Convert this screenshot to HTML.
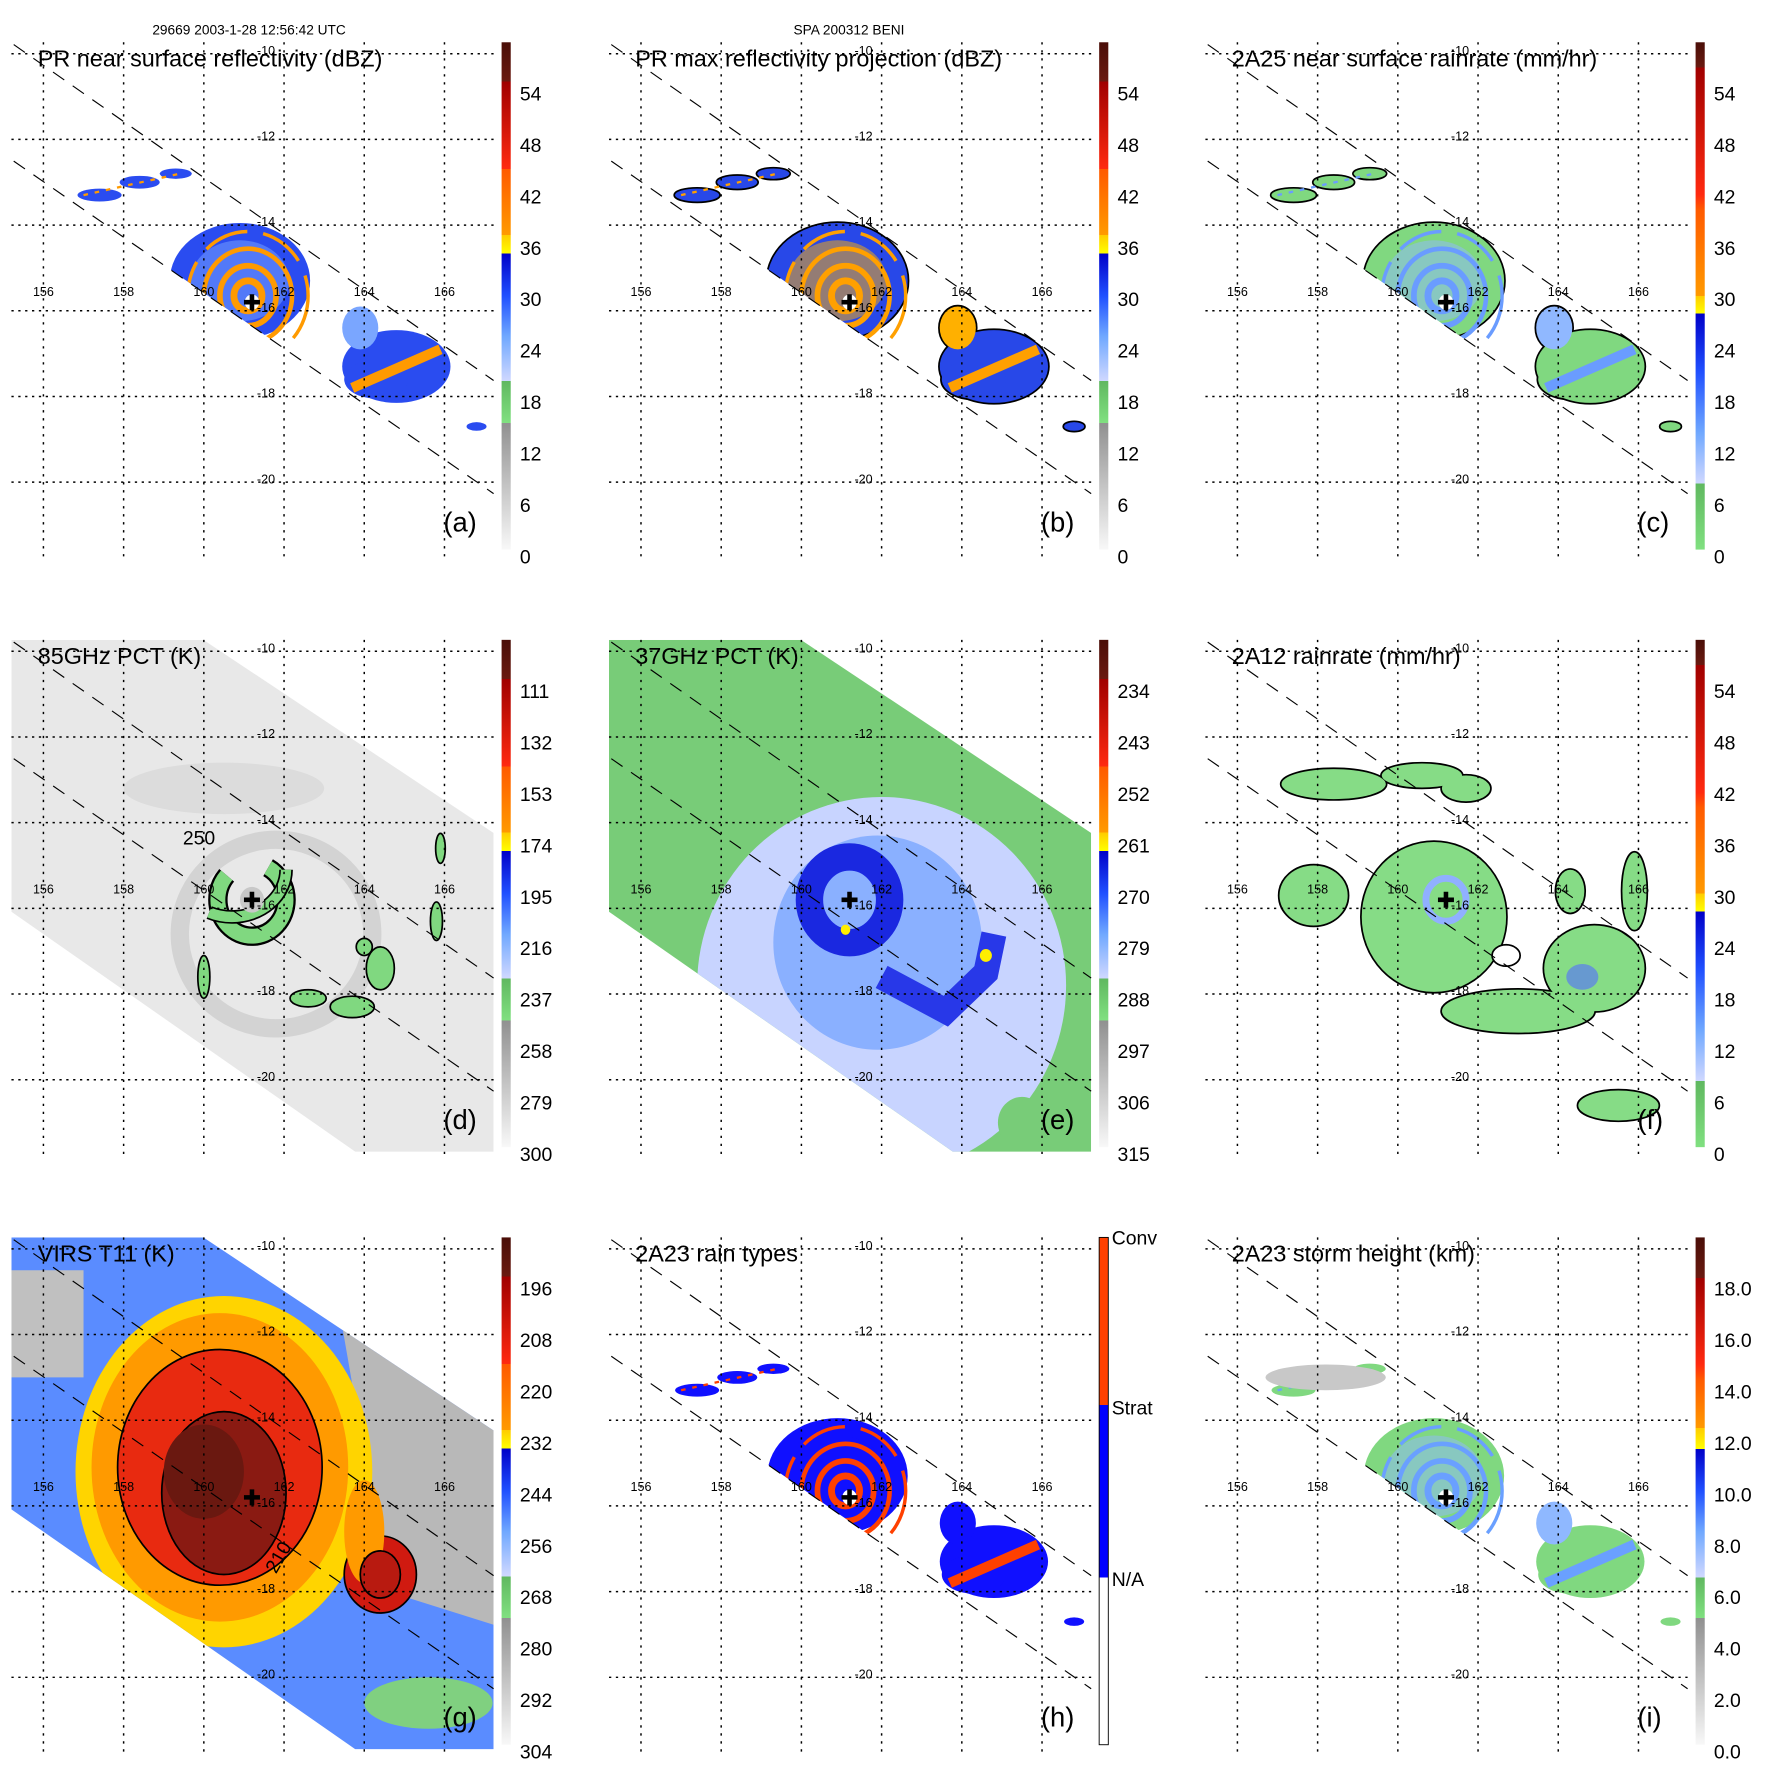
<!DOCTYPE html>
<html><head><meta charset="utf-8"><title>TRMM BENI overpass</title>
<style>
html,body{margin:0;padding:0;background:#fff;}
svg{display:block;font-family:"Liberation Sans",Arial,sans-serif;}
</style></head>
<body>
<svg id="chart" width="1771" height="1771" viewBox="0 0 1550 1550" xmlns="http://www.w3.org/2000/svg">
<rect x="0" y="0" width="1550" height="1550" fill="#fff"/>
<text x="218" y="30" font-size="12" text-anchor="middle">29669 2003-1-28 12:56:42 UTC</text>
<text x="743" y="30" font-size="12" text-anchor="middle">SPA 200312 BENI</text>
</svg>
<script>
// ---- axis data ----
const lonTicks = [156, 158, 160, 162, 164, 166];
const latTicks = [-10, -12, -14, -16, -18, -20];
const eyeLon = 161.2, eyeLat = -15.8;
// colorbar tick labels
const ticksRef = ['54','48','42','36','30','24','18','12','6','0'];
const ticks85 = ['111','132','153','174','195','216','237','258','279','300'];
const ticks37 = ['234','243','252','261','270','279','288','297','306','315'];
const ticksIR = ['196','208','220','232','244','256','268','280','292','304'];
const ticksHt = ['18.0','16.0','14.0','12.0','10.0','8.0','6.0','4.0','2.0','0.0'];
const ticksType = ['Conv','Strat','N/A'];
// PR rain blobs (lon, lat, radius lon, radius lat in degrees)
const prLon = [160.9, 164.8, 163.9, 157.4, 158.4, 159.3, 166.8, 164.3];
const prLat = [-15.3, -17.3, -16.4, -13.3, -13.0, -12.8, -18.7, -17.6];
const prRx  = [1.75, 1.35, 0.45, 0.55, 0.5, 0.4, 0.25, 0.8];
const prRy  = [1.35, 0.85, 0.5, 0.15, 0.15, 0.12, 0.1, 0.45];
// eyewall rings (degrees)
const ringR = [0.35, 0.7, 1.1, 1.5];
// 2A12 rain regions
const f12Lon = [160.9, 163.0, 164.9, 165.9, 157.9, 158.4, 160.6, 161.7, 165.5, 164.3];
const f12Lat = [-16.2, -18.4, -17.4, -15.6, -15.7, -13.1, -12.9, -13.2, -20.6, -15.6];
const f12Rx  = [1.8, 1.9, 1.25, 0.3, 0.85, 1.3, 1.0, 0.6, 1.0, 0.35];
const f12Ry  = [1.75, 0.5, 1.0, 0.9, 0.7, 0.35, 0.28, 0.3, 0.35, 0.5];
// 85GHz scattering blobs
const d85Lon = [164.4, 163.7, 162.6, 160.0, 165.9, 165.8, 164.0];
const d85Lat = [-17.4, -18.3, -18.1, -17.6, -14.6, -16.3, -16.9];
const d85Rx  = [0.35, 0.55, 0.45, 0.15, 0.12, 0.15, 0.2];
const d85Ry  = [0.5, 0.25, 0.2, 0.5, 0.35, 0.45, 0.2];
// IR cloud top layers (centre lon/lat, radii)
const irLon = [160.5, 160.4, 160.4, 160.5, 164.4, 164.0];
const irLat = [-15.2, -15.1, -15.1, -15.7, -17.6, -16.6];
const irRx  = [3.7, 3.2, 2.55, 1.55, 0.9, 0.5];
const irRy  = [4.1, 3.6, 2.75, 1.9, 0.9, 1.2];

const NS = 'http://www.w3.org/2000/svg';
const svg = document.getElementById('chart');
function mk(tag, attrs, parent, name) {
  const e = document.createElementNS(NS, tag);
  for (const k in attrs) e.setAttribute(k, attrs[k]);
  
  
  (parent || svg).appendChild(e);
  return e;
}
const defs = mk('defs', {}, svg, 'definitions');

const colOff = [0, 523, 1045], rowOff = [0, 523, 1046];
function X(p, lon) { return p.ox + 38 + (lon - 156) * 35.1; }
function Y(p, lat) { return p.oy + 47 + (-10 - lat) * 37.5; }
function RX(r) { return r * 35.1; }
function RY(r) { return r * 37.5; }

const bandsRef = [['#4a0e08',0],['#6a1a10',0.077],['#a00000',0.077],['#ff2a10',0.25],['#ff5a00',0.25],['#ff9a00',0.38],['#ffcc00',0.38],['#ffff00',0.416],['#0000c8',0.416],['#2050ff',0.5],['#70a8ff',0.58],['#d0d8ff',0.668],['#60b860',0.668],['#80e080',0.75],['#909090',0.75],['#f8f8f8',1]];
const bandsRain = [['#4a0e08',0],['#6a1a10',0.05],['#a00000',0.05],['#ff2a10',0.3],['#ff5a00',0.33],['#ff9a00',0.5],['#ffcc00',0.5],['#ffff00',0.535],['#0000c8',0.535],['#2050ff',0.65],['#70a8ff',0.77],['#d0d8ff',0.87],['#60b860',0.87],['#80e080',1]];
const bandsHt = [['#4a0e08',0],['#6a1a10',0.08],['#a00000',0.08],['#ff2a10',0.25],['#ff5a00',0.28],['#ff9a00',0.376],['#ffcc00',0.376],['#ffff00',0.417],['#0000c8',0.417],['#2050ff',0.5],['#70a8ff',0.58],['#d0d8ff',0.67],['#60b860',0.67],['#80e080',0.75],['#909090',0.75],['#f8f8f8',1]];
const bandsType = [['#ff4000',0],['#ff4000',0.33],['#0000ff',0.33],['#0000ff',0.67],['#ffffff',0.67],['#ffffff',1]];

const panels = [
 {id:'a', c:0, r:0, title:'PR near surface reflectivity (dBZ)', ticks:ticksRef, bands:bandsRef},
 {id:'b', c:1, r:0, title:'PR max reflectivity projection (dBZ)', ticks:ticksRef, bands:bandsRef},
 {id:'c', c:2, r:0, title:'2A25 near surface rainrate (mm/hr)', ticks:ticksRef, bands:bandsRain},
 {id:'d', c:0, r:1, title:'85GHz PCT (K)', ticks:ticks85, bands:bandsRef},
 {id:'e', c:1, r:1, title:'37GHz PCT (K)', ticks:ticks37, bands:bandsRef},
 {id:'f', c:2, r:1, title:'2A12 rainrate (mm/hr)', ticks:ticksRef, bands:bandsRain},
 {id:'g', c:0, r:2, title:'VIRS T11 (K)', ticks:ticksIR, bands:bandsRef},
 {id:'h', c:1, r:2, title:'2A23 rain types', ticks:ticksType, bands:bandsType},
 {id:'i', c:2, r:2, title:'2A23 storm height (km)', ticks:ticksHt, bands:bandsHt}
];

function ell(g, p, lon, lat, rx, ry, attrs, name) {
  const a = Object.assign({cx:X(p,lon), cy:Y(p,lat), rx:RX(rx), ry:RY(ry)}, attrs);
  return mk('ellipse', a, g, name);
}

function drawPR(p, g, fill, outline, ringCol, innerFill) {
  for (let i = 0; i < prLon.length; i++) {
    if (outline) ell(g, p, prLon[i], prLat[i], prRx[i], prRy[i], {fill:'none', stroke:'#000', 'stroke-width':3}, 'rain-outline');
  }
  for (let i = 0; i < prLon.length; i++) {
    ell(g, p, prLon[i], prLat[i], prRx[i], prRy[i], {fill: i === 2 ? innerFill : fill}, 'rain-area');
  }
  ell(g, p, prLon[0], prLat[0], prRx[0]*0.7, prRy[0]*0.7, {fill:innerFill, opacity:0.5}, 'rain-inner');
  for (let i = 0; i < ringR.length; i++) {
    mk('ellipse', {cx:X(p,eyeLon-0.1), cy:Y(p,eyeLat+0.15), rx:RX(ringR[i]), ry:RY(ringR[i]), fill:'none', stroke:ringCol, 'stroke-width': 6 - i, 'stroke-dasharray': i === 3 ? '40,14' : 'none'}, g, 'eyewall-ring');
  }
  mk('line', {x1:X(p,163.7), y1:Y(p,-17.8), x2:X(p,165.9), y2:Y(p,-16.9), stroke:ringCol, 'stroke-width':9}, g, 'convective-band');
  mk('line', {x1:X(p,157.0), y1:Y(p,-13.3), x2:X(p,159.4), y2:Y(p,-12.8), stroke:ringCol, 'stroke-width':2, 'stroke-dasharray':'4,6'}, g, 'outer-band-cores');
  ell(g, p, eyeLon, eyeLat, 0.18, 0.18, {fill:'#fff'}, 'eye');
}

panels.forEach(P => {
  const p = {ox: colOff[P.c], oy: rowOff[P.r]};
  const g = mk('g', {}, svg, 'panel-' + P.id);
  const ox = p.ox, oy = p.oy;
  const cp = mk('clipPath', {id:'plot-' + P.id}, defs, 'plot-clip');
  mk('rect', {x:ox+10, y:oy+37, width:422, height:453}, cp, 'plot-clip-rect');
  const cpr = mk('clipPath', {id:'pr-' + P.id}, defs, 'pr-swath-clip');
  mk('polygon', {points:`${ox+12},${oy+39} ${ox+432},${oy+333} ${ox+432},${oy+432} ${ox+12},${oy+141}`}, cpr, 'pr-swath-poly');
  const ctm = mk('clipPath', {id:'tmi-' + P.id}, defs, 'tmi-swath-clip');
  mk('polygon', {points:`${ox+10},${oy+37} ${ox+178},${oy+37} ${ox+432},${oy+206} ${ox+432},${oy+485} ${ox+311},${oy+485} ${ox+10},${oy+275}`}, ctm, 'tmi-swath-poly');

  const data = mk('g', {'clip-path': `url(#plot-${P.id})`}, g, 'data-layer');
  const pr = mk('g', {'clip-path': `url(#pr-${P.id})`}, data, 'pr-data');
  const tm = mk('g', {'clip-path': `url(#tmi-${P.id})`}, data, 'tmi-data');

  if (P.id === 'a') drawPR(p, pr, '#2a4cf0', false, '#ff9a00', '#7aa6ff');
  if (P.id === 'b') drawPR(p, pr, '#2848e8', true, '#ffa000', '#ffb000');
  if (P.id === 'c') { drawPR(p, pr, '#80d880', true, '#6a9cff', '#90b8ff'); }
  if (P.id === 'h') { drawPR(p, pr, '#1010ff', false, '#ff4000', '#1010ff'); }
  if (P.id === 'i') {
    drawPR(p, pr, '#80d880', false, '#6aa0ff', '#8fb8ff');
    ell(pr, p, 158.2, -13.0, 1.5, 0.3, {fill:'#c8c8c8'}, 'low-echo-strip');
  }
  if (P.id === 'd') {
    mk('rect', {x:ox+10, y:oy+37, width:422, height:453, fill:'#e8e8e8'}, tm, 'tb-background');
    ell(tm, p, 161.8, -16.6, 2.4, 2.2, {fill:'none', stroke:'#cdcdcd', 'stroke-width':16, opacity:0.8}, 'spiral-band');
    ell(tm, p, 160.5, -13.2, 2.5, 0.6, {fill:'#dcdcdc'}, 'outer-band');
    ell(tm, p, eyeLon, eyeLat, 0.85, 0.85, {fill:'none', stroke:'#000', 'stroke-width':17, 'stroke-dasharray':'120,40'}, 'eyewall-outline');
    ell(tm, p, eyeLon, eyeLat, 0.85, 0.85, {fill:'none', stroke:'#80d880', 'stroke-width':13, 'stroke-dasharray':'120,40'}, 'eyewall-scatter');
    ell(tm, p, 160.7, -15.1, 1.35, 1.1, {fill:'none', stroke:'#000', 'stroke-width':12, 'stroke-dasharray':'90,200'}, 'outer-arc-outline');
    ell(tm, p, 160.7, -15.1, 1.35, 1.1, {fill:'none', stroke:'#80d880', 'stroke-width':9, 'stroke-dasharray':'90,200'}, 'outer-arc');
    for (let i = 0; i < d85Lon.length; i++) ell(tm, p, d85Lon[i], d85Lat[i], d85Rx[i], d85Ry[i], {fill:'#80d880', stroke:'#000', 'stroke-width':1.5}, 'scatter-cell');
    ell(tm, p, eyeLon, eyeLat, 0.3, 0.3, {fill:'#c8c8c8'}, 'eye-region');
  }
  if (P.id === 'e') {
    mk('rect', {x:ox+10, y:oy+37, width:422, height:453, fill:'#78cc78'}, tm, 'tb-background');
    ell(tm, p, 162.0, -17.8, 4.6, 4.4, {fill:'#c8d4ff'}, 'warm-ocean-region');
    ell(tm, p, 161.9, -16.8, 2.6, 2.5, {fill:'#8ab0ff'}, 'rain-region');
    ell(tm, p, eyeLon, eyeLat, 1.0, 1.0, {fill:'none', stroke:'#1a28e0', 'stroke-width':24}, 'eyewall-emission');
    mk('polyline', {points:`${X(p,162.0)},${Y(p,-17.6)} ${X(p,163.6)},${Y(p,-18.4)} ${X(p,164.6)},${Y(p,-17.5)} ${X(p,164.8)},${Y(p,-16.6)}`, fill:'none', stroke:'#2838e8', 'stroke-width':22}, tm, 'spiral-emission');
    ell(tm, p, 164.6, -17.1, 0.15, 0.15, {fill:'#ffee00'}, 'hot-cell');
    ell(tm, p, 161.1, -16.5, 0.12, 0.12, {fill:'#ffee00'}, 'hot-cell');
    ell(tm, p, 165.5, -21.0, 0.6, 0.6, {fill:'#78cc78'}, 'cool-patch');
  }
  if (P.id === 'f') {
    for (let i = 0; i < f12Lon.length; i++) ell(data, p, f12Lon[i], f12Lat[i], f12Rx[i], f12Ry[i], {fill:'#000', stroke:'#000', 'stroke-width':3}, 'rain-outline');
    for (let i = 0; i < f12Lon.length; i++) ell(data, p, f12Lon[i], f12Lat[i], f12Rx[i], f12Ry[i], {fill:'#86dc86'}, 'rain-area');
    ell(data, p, 162.7, -17.1, 0.35, 0.25, {fill:'#fff', stroke:'#000', 'stroke-width':1.5}, 'rain-gap');
    ell(data, p, eyeLon, eyeLat, 0.5, 0.5, {fill:'none', stroke:'#90b0ff', 'stroke-width':6}, 'eyewall-rain');
    ell(data, p, 164.6, -17.6, 0.4, 0.3, {fill:'#5a7cf0', opacity:0.7}, 'heavy-rain');
  }
  if (P.id === 'g') {
    mk('rect', {x:ox+10, y:oy+37, width:422, height:453, fill:'#5a8cff'}, tm, 'ir-background');
    mk('polygon', {points:`${X(p,163.3)},${Y(p,-11)} ${X(p,168)},${Y(p,-11)} ${X(p,168)},${Y(p,-19)} ${X(p,164.6)},${Y(p,-18)}`, fill:'#b8b8b8'}, tm, 'clear-region');
    mk('polygon', {points:`${X(p,155)},${Y(p,-10.5)} ${X(p,157)},${Y(p,-10.5)} ${X(p,157)},${Y(p,-13)} ${X(p,155)},${Y(p,-13)}`, fill:'#c0c0c0'}, tm, 'clear-region-west');
    ell(tm, p, 165.6, -20.6, 1.6, 0.6, {fill:'#80d080'}, 'low-cloud');
    ell(tm, p, 158.2, -20.8, 2.8, 1.2, {fill:'#a8c4ff'}, 'mid-cloud');
    const irCols = ['#ffd400', '#ff9a00', '#e82a10', '#8a1a12', '#d01a10', '#ff9a00'];
    for (let i = 0; i < irLon.length; i++) ell(tm, p, irLon[i], irLat[i], irRx[i], irRy[i], {fill:irCols[i], stroke: i >= 2 && i <= 4 ? '#000' : 'none', 'stroke-width':1.5}, 'cloud-top-layer');
    ell(tm, p, 160.0, -15.2, 1.0, 1.1, {fill:'#6a1810'}, 'cold-core');
    ell(tm, p, 164.4, -17.6, 0.5, 0.55, {fill:'#b81a10', stroke:'#000', 'stroke-width':1.5}, 'convective-cell');
    mk('text', {x:X(p,161.8), y:Y(p,-17.6), 'font-size':17, transform:`rotate(-60 ${X(p,161.8)} ${Y(p,-17.6)})`}, g, 'contour-label').textContent = '210';
  }

  lonTicks.forEach(lon => {
    mk('line', {x1:X(p,lon), y1:oy+37, x2:X(p,lon), y2:oy+490, stroke:'#000', 'stroke-width':1.3, 'stroke-dasharray':'2,5'}, g, 'meridian-gridline');
    mk('text', {x:X(p,lon), y:Y(p,-15.65), 'font-size':11, 'text-anchor':'middle'}, g, 'lon-label').textContent = String(lon);
  });
  latTicks.forEach(lat => {
    mk('line', {x1:ox+10, y1:Y(p,lat), x2:ox+432, y2:Y(p,lat), stroke:'#000', 'stroke-width':1.3, 'stroke-dasharray':'2,4'}, g, 'parallel-gridline');
    mk('text', {x:X(p,161.55), y:Y(p,lat) + 1, 'font-size':11, 'text-anchor':'middle'}, g, 'lat-label').textContent = String(lat);
  });
  mk('line', {x1:ox+12, y1:oy+39, x2:ox+432, y2:oy+333, stroke:'#000', 'stroke-width':1, 'stroke-dasharray':'12,9'}, g, 'swath-edge-north');
  mk('line', {x1:ox+12, y1:oy+141, x2:ox+432, y2:oy+432, stroke:'#000', 'stroke-width':1, 'stroke-dasharray':'12,9'}, g, 'swath-edge-south');
  mk('path', {d:`M${X(p,eyeLon)-7},${Y(p,eyeLat)}h14M${X(p,eyeLon)},${Y(p,eyeLat)-7}v14`, stroke:'#000', 'stroke-width':4}, g, 'storm-center-marker');
  if (P.id === 'd') mk('text', {x:ox+160, y:oy+216, 'font-size':17}, g, 'contour-label').textContent = '250';

  const t = mk('text', {x:ox+33, y:oy+58, 'font-size':20.5}, g, 'panel-title');
  t.textContent = P.title;
  mk('text', {x:ox+388, y:oy+465, 'font-size':24}, g, 'panel-letter').textContent = '(' + P.id + ')';

  const gr = mk('linearGradient', {id:'cb-' + P.id, x1:0, y1:0, x2:0, y2:1}, defs, 'colorbar-gradient');
  P.bands.forEach(b => mk('stop', {offset:b[1], 'stop-color':b[0]}, gr, 'gradient-stop'));
  const cb = mk('g', {}, g, 'colorbar');
  mk('rect', {x:ox+439, y:oy+37, width:8, height:444, fill:`url(#cb-${P.id})`, stroke: P.id === 'h' ? '#000' : 'none', 'stroke-width':0.8}, cb, 'colorbar-bar');
  if (P.id === 'h') {
    const ty = [43, 192, 342];
    P.ticks.forEach((lab, i) => mk('text', {x:ox+450, y:oy+ty[i], 'font-size':17}, cb, 'colorbar-label').textContent = lab);
  } else {
    P.ticks.forEach((lab, i) => mk('text', {x:ox+455, y:oy+88 + i*45, 'font-size':17}, cb, 'colorbar-label').textContent = lab);
  }
});
</script>
</body></html>
